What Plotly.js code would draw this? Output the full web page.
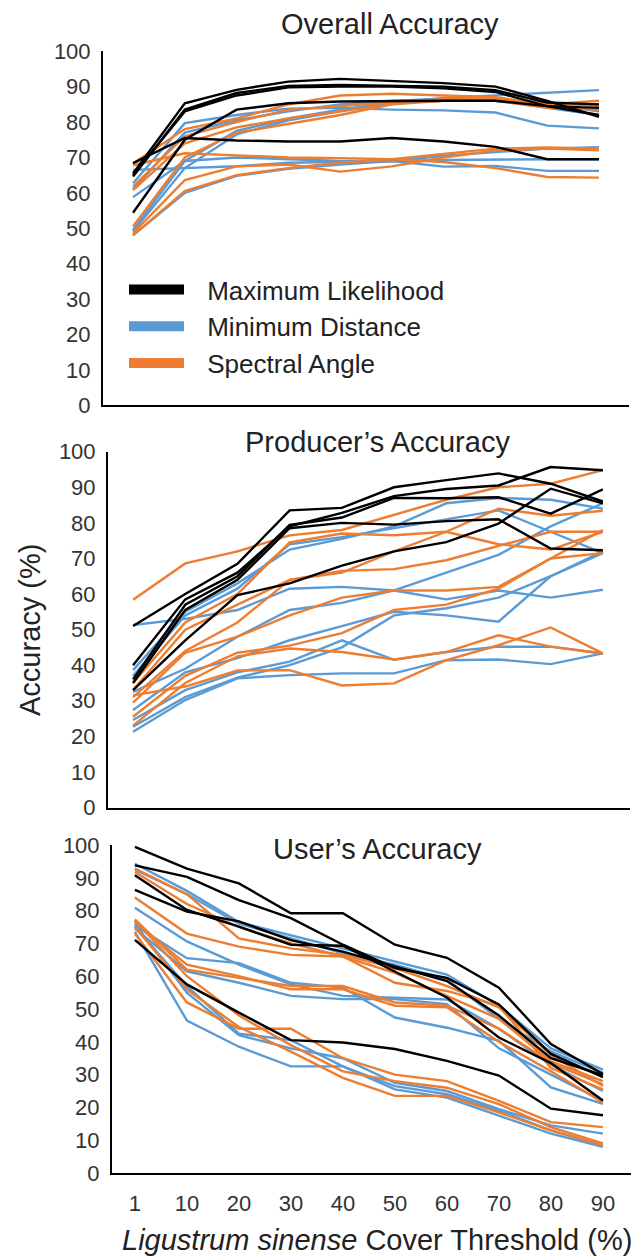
<!DOCTYPE html>
<html><head><meta charset="utf-8">
<script src="https://cdn.plot.ly/plotly-3.0.1.min.js"></script>
<style>html,body{margin:0;padding:0;background:#fff}</style>
</head><body><div id="chart" style="width:638px;height:1260px"></div>
<script>
// Cover thresholds (%)
const thresholds = ['1','10','20','30','40','50','60','70','80','90'];
const classifiers = ['Maximum Likelihood','Minimum Distance','Spectral Angle'];

// Overall accuracy (%)
const overallML = [
  [65.5,85.3,89.1,91.4,92.2,91.5,91,90,86,81.5],
  [64.6,83.5,88.2,90.2,90.5,90.3,90,89,85.5,85],
  [65,83,87.5,89.8,90,90,89.5,88.5,84.5,82],
  [54.4,75,83.5,85.3,85.8,86,86,86,84.5,84],
  [68.4,75.5,74.8,74.5,74.5,75.5,74.5,73,69.5,69.5]
];
const overallMD = [
  [58.8,69,77.5,81,83.5,85.5,86.8,87.5,88.3,89],
  [62.7,79.7,82,83.8,84,83.5,83.3,82.7,79,78.2],
  [61,77,80.5,83,85,86,86.5,86.5,84,82],
  [49.1,67,76.5,80.5,83,85.5,86,86,85,83],
  [66.5,67,67.5,68.5,68.8,69,67.4,67.6,66.2,66.2],
  [48,60,64.8,66.8,68,69,69.3,69.5,69.5,69.5],
  [49.5,69,70,69.5,69,69,70.5,71.5,72.5,72.9]
];
const overallSA = [
  [68.3,78,81,85,87.5,88,87.5,87,85,86],
  [61.8,76,80,83.5,84.5,85.5,86,86,84,83.5],
  [60.8,74,78.5,81,83,85,86,86.5,85,85],
  [50.5,70,77,79.5,82,85,86.5,86.5,85.5,84.5],
  [67.8,71.2,70.6,70,69.8,69.5,68.7,67,64.5,64.3],
  [48.6,63.6,67.5,68,66,67.5,70,72,72.5,72],
  [48,60.5,65,67,68.5,69.5,71,72.5,72.8,72.5]
];

// Producer's accuracy (%)
const producerML = [
  [51,60,68.5,83.5,84.2,90,92,93.9,91,86],
  [40,58.5,66,79,82.8,87.5,89.5,90.5,95.7,94.8],
  [36,57,65,79.4,81.5,87,86.9,87.2,82.6,89.4],
  [33,47,59.7,63,68,72,74.6,79.8,89.6,85.5],
  [35,55.5,64,78.5,80,79.5,80.5,81,72.8,72.3]
];
const producerMD = [
  [51.3,53,55.5,61.5,62,61,58.5,61,59,61.2],
  [38.6,55,63,72.5,75.5,79,85.5,87,86.5,84],
  [37,54,61.5,74,76,78.5,81,83.5,77.5,71.5],
  [32.5,39,48,55.5,57.5,61,66,71,79,85.5],
  [27.4,38,42,47,51,55,54,52.2,65,71.5],
  [24.6,33,38,41,47,41.5,43.7,45.2,45.2,43.3],
  [22.7,31,36.5,40,45,54,56,59,65,72],
  [21.3,30.2,36.3,37.2,37.7,37.7,41.4,41.6,40.3,43.3]
];
const producerSA = [
  [58.4,68.6,72,76.5,78,82.3,86.5,90,91,94.8],
  [35,52,60,74.5,77,76.5,77.5,74,72.5,77.5],
  [33,50,57,64,66.5,67,69.5,73.5,77.5,77.5],
  [31,44,52,64,66,72,77.5,84,82,83.4],
  [29.5,43.5,48,54,59,61,61,62,70,78],
  [25.5,37,43.5,45.5,49,55.5,57,61.5,70,71.5],
  [31.5,34,38.5,38.6,34.3,34.9,41.4,45.6,50.6,43.3],
  [23,35,42.5,44.7,43.7,41.6,43.7,48.4,45.2,43.3]
];

// User's accuracy (%)
const userML = [
  [99.4,92.8,88.3,79.2,79.2,69.6,65.6,56.5,39.3,30.2],
  [93.8,90.3,83.2,77.7,69.6,62.5,59.5,51.4,36.3,29.2],
  [90.8,80.2,75.1,69.6,69.3,61.5,53.5,41.3,33.5,22.1],
  [86.3,79.7,76.7,71,67.5,63,58.5,48,35,29.8],
  [71.1,57.5,48.9,40.5,39.8,37.8,34.2,29.7,19.6,17.6]
];
const userMD = [
  [94.3,86,76.5,72.5,68.5,64.5,60.5,51,38,31.5],
  [92.5,85,76,71.5,67,63.5,59,47,37,30.5],
  [80.9,70.6,63.5,57.5,54,53.4,52.9,44,33,25],
  [75.5,65.5,64,58,56.5,47.4,44.3,40.3,26.1,21.1],
  [74.5,61.5,58,54,53,53,51.5,38,30,22],
  [75.1,57,42.5,40.5,32.5,25.5,23,17.5,12,8],
  [73.5,46.5,38.5,32.5,32.5,26.5,24,19,13,8.5],
  [76,55,42,38,35,27.5,25,19.5,14.5,12]
];
const userSA = [
  [92.8,85,71.5,68.5,66.5,62.5,57,50.5,36,26.5],
  [91.8,82,75,70,66,61,54,47,34,28],
  [84,73,69,66.5,66,58,55.5,51,32,25.5],
  [77.3,62,59.5,57,57,52,51,44,33.5,27],
  [76.5,63.5,60,56,56,51,50.5,40,31,21.5],
  [73,52,44,44,35,30,28,22,15.5,14],
  [75,56,44.5,37,29,23.5,23.5,18.5,13,8.5],
  [77,60,48,39,31,28,26,21,14,9]
];

const colors = ['#000000','#5B9BD5','#ED7D31'];
const FONT = 'Arial, "Liberation Sans", sans-serif';
const traces = [];

function addGroup(rows, color, xa, ya){
  rows.forEach(r => traces.push({
    type:'scatter', mode:'lines', x: thresholds, y: r,
    xaxis: xa, yaxis: ya, line:{color: color, width:2.4},
    showlegend:false, hoverinfo:'skip'
  }));
}
const panels = [
  [overallML, overallMD, overallSA, 'x', 'y'],
  [producerML, producerMD, producerSA, 'x2', 'y2'],
  [userML, userMD, userSA, 'x3', 'y3']
];
panels.forEach(p => {
  addGroup(p[1], colors[1], p[3], p[4]);
  addGroup(p[2], colors[2], p[3], p[4]);
  addGroup(p[0], colors[0], p[3], p[4]);
});
// legend entries (thick swatches)
classifiers.forEach((name, i) => traces.push({
  type:'scatter', mode:'lines', x:[null], y:[null], name: '\u2002\u2009' + name,
  xaxis:'x', yaxis:'y', line:{color: colors[i], width:14},
  showlegend:true, legendgroup:'g'+i, hoverinfo:'skip'
}));

const W = 638, H = 1260;
const px = v => v / W, py = v => 1 - v / H;

function yax(top, bottom){
  return {
    domain:[py(bottom), py(top)], range:[0,100], dtick:10, tick0:0,
    showgrid:false, zeroline:false, showline:true, linecolor:'#000', linewidth:2,
    ticks:'outside', ticklen:6, tickcolor:'rgba(0,0,0,0)',
    tickfont:{family:FONT, size:22, color:'#333'}, fixedrange:true
  };
}
function xax(left, right, range, anchor, labels){
  return {
    domain:[px(left), px(right)], range: range, type:'category',
    categoryorder:'array', categoryarray: thresholds,
    showgrid:false, zeroline:false, showline:true, linecolor:'#000', linewidth:2,
    ticks:'outside', ticklen:10, tickcolor:'rgba(0,0,0,0)',
    showticklabels: labels, anchor: anchor,
    tickfont:{family:FONT, size:22, color:'#333'}, fixedrange:true
  };
}

const ann = (text, x, y, size, extra) => Object.assign({
  text: text, xref:'paper', yref:'paper', x: px(x), y: py(y),
  xanchor:'center', yanchor:'middle', showarrow:false,
  font:{family:FONT, size:size, color:'#222'}
}, extra || {});

const layout = {
  width: W, height: H,
  margin:{l:0, r:0, t:0, b:0},
  paper_bgcolor:'#fff', plot_bgcolor:'rgba(0,0,0,0)',
  showlegend:true,
  legend:{
    x: px(124), y: py(266), xanchor:'left', yanchor:'top',
    bgcolor:'rgba(0,0,0,0)', borderwidth:0,
    font:{family:FONT, size:26, color:'#222'},
    itemwidth:55, tracegroupgap:2, traceorder:'normal'
  },
  xaxis: xax(103, 629, [-0.58, 9.58], 'y', false),
  yaxis: yax(51.2, 405.4),
  xaxis2: xax(108, 630, [-0.48, 9.52], 'y2', false),
  yaxis2: Object.assign(yax(451.7, 807.5), {anchor:'x2'}),
  xaxis3: xax(112, 631, [-0.44, 9.54], 'y3', true),
  yaxis3: Object.assign(yax(845, 1173), {anchor:'x3'}),
  annotations:[
    ann('Overall Accuracy', 390, 24, 29),
    ann('Producer\u2019s Accuracy', 377, 442, 29),
    ann('User\u2019s Accuracy', 377, 849, 29),
    ann('Accuracy (%)', 30, 630, 29, {textangle:-90}),
    ann('<i>Ligustrum sinense</i> Cover Threshold (%)', 377, 1240, 29)
  ]
};
layout.yaxis.anchor = 'x';

Plotly.newPlot('chart', traces, layout, {staticPlot:true, displayModeBar:false});
</script></body></html>
